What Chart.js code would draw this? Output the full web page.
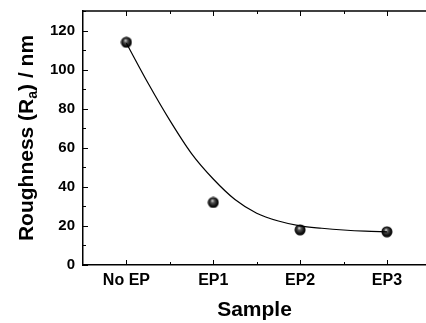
<!DOCTYPE html>
<html>
<head>
<meta charset="utf-8">
<script src="https://cdn.jsdelivr.net/npm/chart.js@4.4.1/dist/chart.umd.min.js"></script>
<style>
  body { margin: 0; background: #fff; overflow: hidden; }
</style>
</head>
<body>
<canvas id="myChart" width="426" height="323"></canvas>
<script>
const samples = ['No EP', 'EP1', 'EP2', 'EP3'];
const roughness = [114, 32, 18, 17];

// fitted curve
const fitX = [0, 0.25, 0.5, 0.75, 1.0, 1.25, 1.5, 1.75, 2.0, 2.25, 2.5, 2.75, 3.0];
const fitY = [113.5, 93, 74, 57, 44, 33.5, 26.5, 22.5, 20, 18.8, 17.9, 17.3, 17];

const yTicks = [0, 20, 40, 60, 80, 100, 120];

const fontFamily = '"Liberation Sans", Arial, sans-serif';

// black sphere marker
const ball = document.createElement('canvas');
ball.width = 12; ball.height = 12;
const bctx = ball.getContext('2d');
const grad = bctx.createRadialGradient(5, 4, 0, 6, 6, 6);
grad.addColorStop(0, '#f0f0f0');
grad.addColorStop(0.3, '#555');
grad.addColorStop(0.7, '#111');
grad.addColorStop(1, '#000');
bctx.fillStyle = grad;
bctx.beginPath();
bctx.arc(6, 6, 5.5, 0, Math.PI * 2);
bctx.fill();

// inward ticks, top border, y title with subscript
const framePlugin = {
  id: 'frame',
  afterDraw(chart) {
    const c = chart.ctx;
    const a = chart.chartArea;
    const xs = chart.scales.x;
    const ys = chart.scales.y;
    c.save();
    c.strokeStyle = '#000';
    c.lineWidth = 1.5;
    c.beginPath();
    c.moveTo(a.left, a.top);
    c.lineTo(a.right, a.top);
    c.stroke();
    c.lineWidth = 1;
    c.beginPath();
    for (let v = 0; v <= 130; v += 10) {
      const y = Math.round(ys.getPixelForValue(v)) + 0.5;
      const len = v % 20 === 0 ? 5 : 3;
      c.moveTo(a.left, y);
      c.lineTo(a.left + len, y);
    }
    for (let v = 0; v <= 3.4; v += 0.5) {
      const x = Math.round(xs.getPixelForValue(v)) + 0.5;
      const len = v % 1 === 0 ? 5 : 3;
      c.moveTo(x, a.bottom);
      c.lineTo(x, a.bottom - len);
      c.moveTo(x, a.top);
      c.lineTo(x, a.top + len);
    }
    c.stroke();

    // y title
    const big = 'bold 21px ' + fontFamily;
    const small = 'bold 14px ' + fontFamily;
    const parts = [['Roughness (R', big, 0], ['a', small, 6], [') / nm', big, 0]];
    let total = 0;
    parts.forEach(p => { c.font = p[1]; total += c.measureText(p[0]).width; });
    c.translate(27, (a.top + a.bottom) / 2);
    c.rotate(-Math.PI / 2);
    c.fillStyle = '#000';
    c.textBaseline = 'middle';
    let x = -total / 2;
    parts.forEach(p => {
      c.font = p[1];
      c.fillText(p[0], x, p[2]);
      x += c.measureText(p[0]).width;
    });
    c.restore();
  }
};

new Chart(document.getElementById('myChart'), {
  type: 'scatter',
  data: {
    datasets: [
      {
        type: 'line',
        data: fitX.map((x, i) => ({ x: x, y: fitY[i] })),
        borderColor: '#000',
        borderWidth: 1.2,
        pointRadius: 0,
        cubicInterpolationMode: 'monotone',
        fill: false
      },
      {
        data: roughness.map((y, i) => ({ x: i, y: y })),
        pointStyle: ball,
        pointRadius: 6
      }
    ]
  },
  plugins: [framePlugin],
  options: {
    responsive: false,
    animation: false,
    layout: { autoPadding: false, padding: { top: 11, right: 0, left: 0, bottom: 0 } },
    plugins: { legend: { display: false }, tooltip: { enabled: false } },
    scales: {
      x: {
        type: 'linear',
        min: -0.5,
        max: 3.45,
        afterBuildTicks: s => { s.ticks = samples.map((n, i) => ({ value: i })); },
        afterFit: s => { s.height = 58; s.paddingRight = 0; s.paddingLeft = 0; },
        grid: { display: false, drawTicks: false },
        border: { display: true, color: '#000', width: 1.5 },
        ticks: {
          padding: 6,
          color: '#000',
          font: { family: fontFamily, size: 16, weight: 'bold' },
          callback: v => samples[v]
        },
        title: {
          display: true,
          text: 'Sample',
          color: '#000',
          font: { family: fontFamily, size: 21, weight: 'bold' },
          padding: { top: 6, bottom: 0 }
        }
      },
      y: {
        min: 0,
        max: 130,
        afterBuildTicks: s => { s.ticks = yTicks.map(v => ({ value: v })); },
        afterFit: s => { s.width = 83; s.paddingTop = 0; s.paddingBottom = 0; },
        grid: { display: false, drawTicks: false },
        border: { display: true, color: '#000', width: 1.5 },
        ticks: {
          padding: 8,
          color: '#000',
          font: { family: fontFamily, size: 15, weight: 'bold' }
        }
      }
    }
  }
});
</script>
</body>
</html>
